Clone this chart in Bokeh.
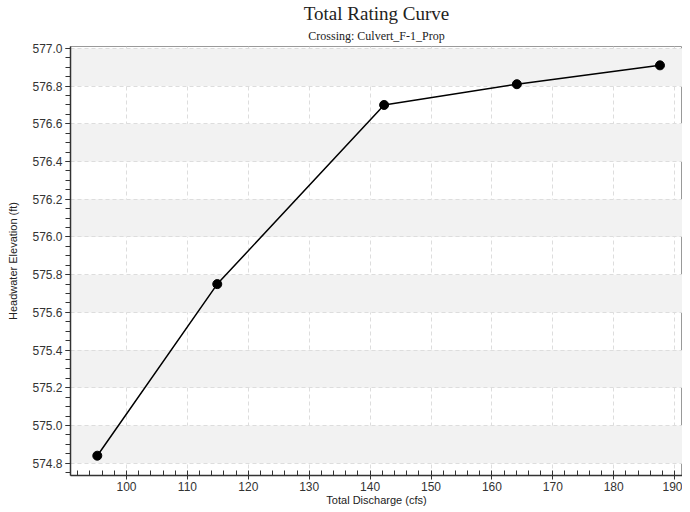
from bokeh.plotting import figure
from bokeh.models import Title, FixedTicker, Range1d, NumeralTickFormatter
from bokeh.embed import file_html
from bokeh.resources import INLINE

discharge = [95.2, 114.9, 142.3, 164.1, 187.6]
elevation = [574.84, 575.75, 576.70, 576.81, 576.91]
x_ticks = [100, 110, 120, 130, 140, 150, 160, 170, 180, 190]
y_ticks = [574.8, 575.0, 575.2, 575.4, 575.6, 575.8, 576.0, 576.2, 576.4, 576.6, 576.8, 577.0]

p = figure(width=682, height=508, output_backend="svg", toolbar_location=None,
           x_range=Range1d(90.8, 191.3), y_range=Range1d(574.735, 577.01),
           min_border_left=70, min_border_right=0, min_border_bottom=30, min_border_top=0)
p.title.visible = False
p.add_layout(Title(text="Crossing: Culvert_F-1_Prop", align="center", text_font="Liberation Serif",
                   text_font_size="12px", text_font_style="normal", text_color="#222222", standoff=7), "above")
p.add_layout(Title(text="Total Rating Curve", align="center", text_font="Liberation Serif",
                   text_font_size="19px", text_font_style="normal", text_color="#222222", standoff=0), "above")

p.outline_line_color = "#999999"
p.background_fill_color = "white"

xt = FixedTicker(ticks=x_ticks, minor_ticks=[x for x in range(92, 192, 2)])
yt = FixedTicker(ticks=y_ticks, minor_ticks=[round(574.75 + 0.05 * i, 2) for i in range(46)])
p.xaxis.ticker = xt
p.yaxis.ticker = yt
p.yaxis.formatter = NumeralTickFormatter(format="0.0")

for ax in (p.xaxis[0], p.yaxis[0]):
    ax.axis_line_color = "#333333"
    ax.axis_line_width = 1.5
    ax.major_tick_line_color = "#333333"
    ax.minor_tick_line_color = "#333333"
    ax.major_label_text_font = "Liberation Sans"
    ax.major_label_text_font_size = "12px"
    ax.major_label_text_color = "#333333"
    ax.axis_label_text_font = "Liberation Sans"
    ax.axis_label_text_font_size = "11px"
    ax.axis_label_text_font_style = "normal"
    ax.axis_label_text_color = "#222222"

p.xaxis.axis_label = "Total Discharge (cfs)"
p.xaxis.major_tick_in = 0
p.xaxis.major_tick_out = 4
p.xaxis.minor_tick_in = 5
p.xaxis.minor_tick_out = 0
p.xaxis.axis_label_standoff = 0
p.xaxis.major_label_standoff = 2

p.yaxis.axis_label = "Headwater Elevation (ft)"
p.yaxis.major_tick_in = 0
p.yaxis.major_tick_out = 5
p.yaxis.minor_tick_in = 0
p.yaxis.minor_tick_out = 5
p.yaxis.axis_label_standoff = 10
p.yaxis.major_label_standoff = 3

p.xgrid.ticker = xt
p.ygrid.ticker = yt
p.xgrid.grid_line_color = "#dddddd"
p.xgrid.grid_line_dash = "4 3"
p.ygrid.grid_line_color = "#dddddd"
p.ygrid.grid_line_dash = "4 3"
p.ygrid.band_fill_color = "#f2f2f2"
p.ygrid.band_fill_alpha = 1.0

p.line(discharge, elevation, line_color="black", line_width=1.5)
p.scatter(discharge, elevation, size=9, fill_color="black", line_color="black")

open("out.html", "w").write(file_html(p, INLINE))
